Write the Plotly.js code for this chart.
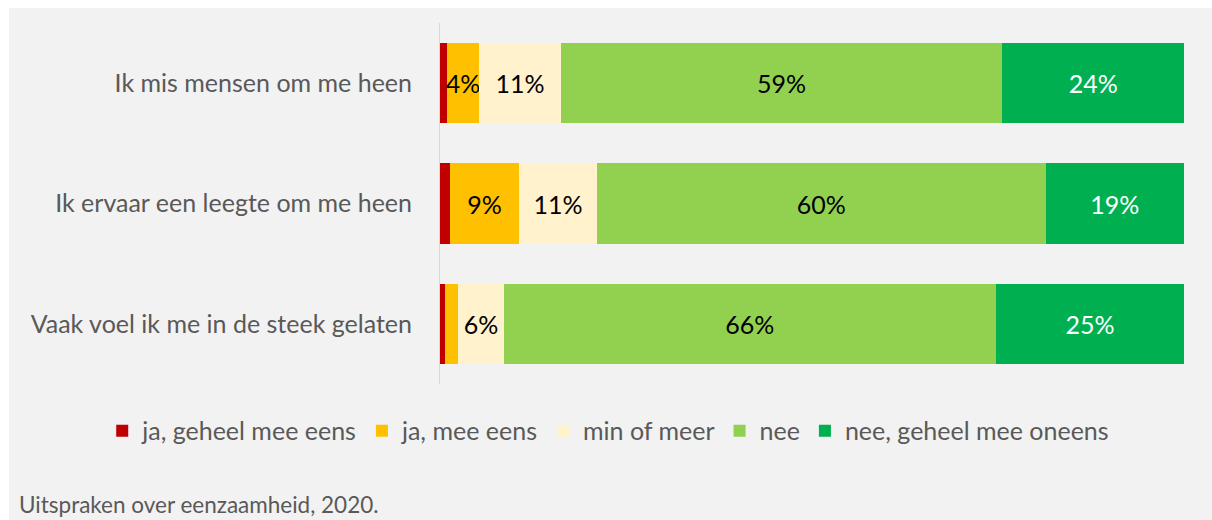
<!DOCTYPE html>
<html>
<head>
<meta charset="utf-8">
<script src="https://cdn.plot.ly/plotly-3.0.1.min.js"></script>
<style>
  html, body { margin: 0; padding: 0; background: #ffffff; }
  #chart { position: absolute; left: 9px; top: 8px; width: 1203px; height: 512px; }
</style>
</head>
<body>
<div id="chart"></div>
<script>
// Categories (top to bottom)
const categories = [
  "Ik mis mensen om me heen",
  "Ik ervaar een leegte om me heen",
  "Vaak voel ik me in de steek gelaten"
];

// Series names
const seriesNames = [
  "ja, geheel mee eens",
  "ja, mee eens",
  "min of meer",
  "nee",
  "nee, geheel mee oneens"
];

// Values (%) per series, one per category
const jaGeheelMeeEens = [0.9, 1.4, 0.7];
const jaMeeEens = [4.4, 9.2, 1.75];
const minOfMeer = [10.9, 10.5, 6.1];
const nee = [59.4, 60.3, 66.2];
const neeGeheelMeeOneens = [24.4, 18.6, 25.25];

// Styling
const colors = ["#C00000", "#FFC000", "#FFF2CC", "#92D050", "#00B050"];
const textColors = ["#000000", "#000000", "#000000", "#000000", "#FFFFFF"];
const FONT = "Lato, 'Noto Sans', sans-serif";

const seriesValues = [jaGeheelMeeEens, jaMeeEens, minOfMeer, nee, neeGeheelMeeOneens];

const traces = seriesValues.map((vals, i) => ({
  type: "bar",
  orientation: "h",
  name: seriesNames[i],
  y: categories,
  x: vals,
  text: vals.map(v => (v >= 3 ? Math.round(v) + "%" : "")),
  texttemplate: "%{text}",
  textposition: "inside",
  insidetextanchor: "middle",
  constraintext: "none",
  textangle: 0,
  textfont: { family: FONT, size: 25, color: textColors[i] },
  marker: { color: colors[i], line: { width: 0 } },
  hoverinfo: "skip"
}));

const layout = {
  width: 1203,
  height: 512,
  paper_bgcolor: "#F2F2F2",
  plot_bgcolor: "#F2F2F2",
  barmode: "stack",
  bargap: 0.332,
  margin: { l: 431, r: 28, t: 15, b: 136, pad: 0, autoexpand: false },
  font: { family: FONT, color: "#595959" },
  xaxis: { range: [0, 100], visible: false, fixedrange: true },
  yaxis: {
    autorange: "reversed",
    showline: true,
    linecolor: "#D9D9D9",
    linewidth: 1,
    ticks: "",
    ticklabelstandoff: 22,
    tickfont: { family: FONT, size: 25, color: "#595959" },
    showgrid: false,
    zeroline: false,
    fixedrange: true
  },
  showlegend: true,
  legend: {
    orientation: "h",
    xref: "paper",
    yref: "paper",
    x: -0.454,
    xanchor: "left",
    y: -0.13,
    yanchor: "middle",
    traceorder: "normal",
    font: { family: FONT, size: 25, color: "#595959" },
    bgcolor: "rgba(0,0,0,0)"
  },
  annotations: [{
    xref: "paper",
    yref: "paper",
    x: -0.568,
    xanchor: "left",
    y: -0.335,
    yanchor: "middle",
    text: "Uitspraken over eenzaamheid, 2020.",
    showarrow: false,
    font: { family: FONT, size: 22.5, color: "#595959" }
  }]
};

Plotly.newPlot("chart", traces, layout, { displayModeBar: false, staticPlot: true });
</script>
</body>
</html>
